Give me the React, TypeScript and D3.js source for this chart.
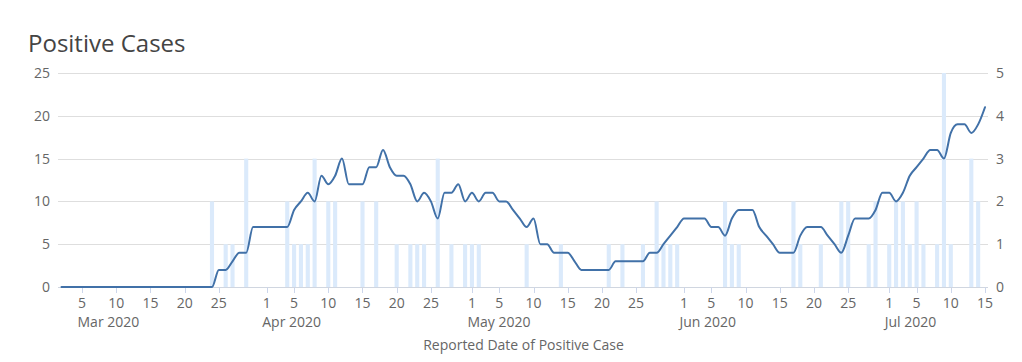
import React from 'react';
import * as d3 from 'd3';

// Daily values from Mar 2 2020 through Jul 15 2020
const startYear = 2020;
const startMonth = 2; // March (0-based)
const startDay = 2;

// Daily positive cases (right axis)
const dailyCases = [
  // Mar 2 - Mar 31
  0, 0, 0, 0, 0, 0, 0, 0, 0, 0,
  0, 0, 0, 0, 0, 0, 0, 0, 0, 0,
  0, 0, 2, 0, 1, 1, 0, 3, 0, 0,
  // Apr
  0, 0, 0, 2, 1, 1, 1, 3, 0, 2,
  2, 0, 0, 0, 2, 0, 2, 0, 0, 1,
  0, 1, 1, 1, 0, 3, 0, 1, 0, 1,
  // May
  1, 1, 0, 0, 0, 0, 0, 0, 1, 0,
  0, 0, 0, 1, 0, 0, 0, 0, 0, 0,
  1, 0, 1, 0, 0, 1, 0, 2, 1, 1, 1,
  // Jun
  0, 0, 0, 0, 0, 0, 2, 1, 1, 0,
  0, 0, 0, 0, 0, 0, 2, 1, 0, 0,
  1, 0, 0, 2, 2, 0, 0, 1, 2, 0,
  // Jul 1 - Jul 15
  1, 2, 2, 1, 2, 1, 0, 1, 5, 1,
  0, 0, 3, 2, 0,
];

// 14-day total line (left axis)
const rollingTotal = [
  // Mar 2 - Mar 31
  0, 0, 0, 0, 0, 0, 0, 0, 0, 0,
  0, 0, 0, 0, 0, 0, 0, 0, 0, 0,
  0, 0, 0, 2, 2, 3, 4, 4, 7, 7,
  // Apr
  7, 7, 7, 7, 9, 10, 11, 10, 13, 12,
  13, 15, 12, 12, 12, 14, 14, 16, 14, 13,
  13, 12, 10, 11, 10, 8, 11, 11, 12, 10,
  // May
  11, 10, 11, 11, 10, 10, 9, 8, 7, 8,
  5, 5, 4, 4, 4, 3, 2, 2, 2, 2,
  2, 3, 3, 3, 3, 3, 4, 4, 5, 6, 7,
  // Jun
  8, 8, 8, 8, 7, 7, 6, 8, 9, 9,
  9, 7, 6, 5, 4, 4, 4, 6, 7, 7,
  7, 6, 5, 4, 6, 8, 8, 8, 9, 11,
  // Jul 1 - Jul 15
  11, 10, 11, 13, 14, 15, 16, 16, 15, 18,
  19, 19, 18, 19, 21,
];

const leftTicks = [0, 5, 10, 15, 20, 25];
const rightTicks = [0, 1, 2, 3, 4, 5];
const labeledDays = [1, 5, 10, 15, 20, 25];
const titleText = 'Positive Cases';
const xAxisTitle = 'Reported Date of Positive Case';

const W = 1022;
const H = 362;
const FONT = '"Open Sans", "DejaVu Sans", sans-serif';

export default function App() {
  const start = new Date(startYear, startMonth, startDay);
  const dates = dailyCases.map((_, i) => d3.timeDay.offset(start, i));
  const last = dates[dates.length - 1];

  const x = d3.scaleTime().domain([start, last]).range([61.5, 985]);
  const yL = d3.scaleLinear().domain([0, 25]).range([287, 73]);
  const yR = d3.scaleLinear().domain([0, 5]).range([287, 73]);

  const dayW = x(dates[1]) - x(dates[0]);
  const barW = dayW * 0.6;

  const line = d3
    .line<number>()
    .x((_, i) => x(dates[i]))
    .y((d) => yL(d))
    .curve(d3.curveMonotoneX);

  const tickDates = dates.filter((d) => labeledDays.includes(d.getDate()));
  const monthStarts = d3.timeMonth
    .range(d3.timeMonth.floor(start), last)
    .map((m) => tickDates.find((t) => t.getMonth() === m.getMonth() && t.getFullYear() === m.getFullYear()))
    .filter(Boolean) as Date[];
  const monthFmt = d3.timeFormat('%b %Y');

  const gridX1 = 58;
  const gridX2 = 988;

  return (
    <div style={{ position: 'absolute', left: 0, top: 0 }}>
      <svg width={W} height={H} style={{ display: 'block', fontFamily: FONT }}>
        <rect width={W} height={H} fill="#ffffff" />
        <text x={28} y={52} fontSize={24} fill="#444444">
          {titleText}
        </text>

        {/* gridlines */}
        {leftTicks.map((t) => (
          <line
            key={'g' + t}
            x1={gridX1}
            x2={gridX2}
            y1={Math.round(yL(t)) + 0.5}
            y2={Math.round(yL(t)) + 0.5}
            stroke="#dedede"
            strokeWidth={1}
          />
        ))}

        {/* bars */}
        {dailyCases.map((v, i) =>
          v > 0 ? (
            <rect
              key={'b' + i}
              x={x(dates[i]) - barW / 2}
              y={yR(v)}
              width={barW}
              height={yR(0) - yR(v)}
              fill="#dbeafb"
            />
          ) : null
        )}

        {/* x axis line and ticks */}
        <line x1={gridX1} x2={gridX2} y1={287.5} y2={287.5} stroke="#d0d6e0" strokeWidth={1} />
        {tickDates.map((d, i) => (
          <line
            key={'t' + i}
            x1={Math.round(x(d)) + 0.5}
            x2={Math.round(x(d)) + 0.5}
            y1={287.5}
            y2={293}
            stroke="#ccd6eb"
            strokeWidth={1}
          />
        ))}
        {tickDates.map((d, i) => (
          <text key={'tl' + i} x={x(d)} y={308} fontSize={14} fill="#666666" textAnchor="middle">
            {d.getDate()}
          </text>
        ))}
        {monthStarts.map((d, i) => (
          <text key={'m' + i} x={x(d) - 4.5} y={327} fontSize={14} fill="#666666" textAnchor="start">
            {monthFmt(d)}
          </text>
        ))}
        <text x={523.5} y={350} fontSize={14} fill="#666666" textAnchor="middle">
          {xAxisTitle}
        </text>

        {/* left axis labels */}
        {leftTicks.map((t) => (
          <text key={'l' + t} x={50} y={yL(t) + 5} fontSize={14} fill="#666666" textAnchor="end">
            {t}
          </text>
        ))}
        {/* right axis labels */}
        {rightTicks.map((t) => (
          <text key={'r' + t} x={996} y={yR(t) + 5} fontSize={14} fill="#666666" textAnchor="start">
            {t}
          </text>
        ))}

        {/* line */}
        <path d={line(rollingTotal) || ''} fill="none" stroke="#4171a8" strokeWidth={2} strokeLinejoin="round" strokeLinecap="round" />
      </svg>
    </div>
  );
}
